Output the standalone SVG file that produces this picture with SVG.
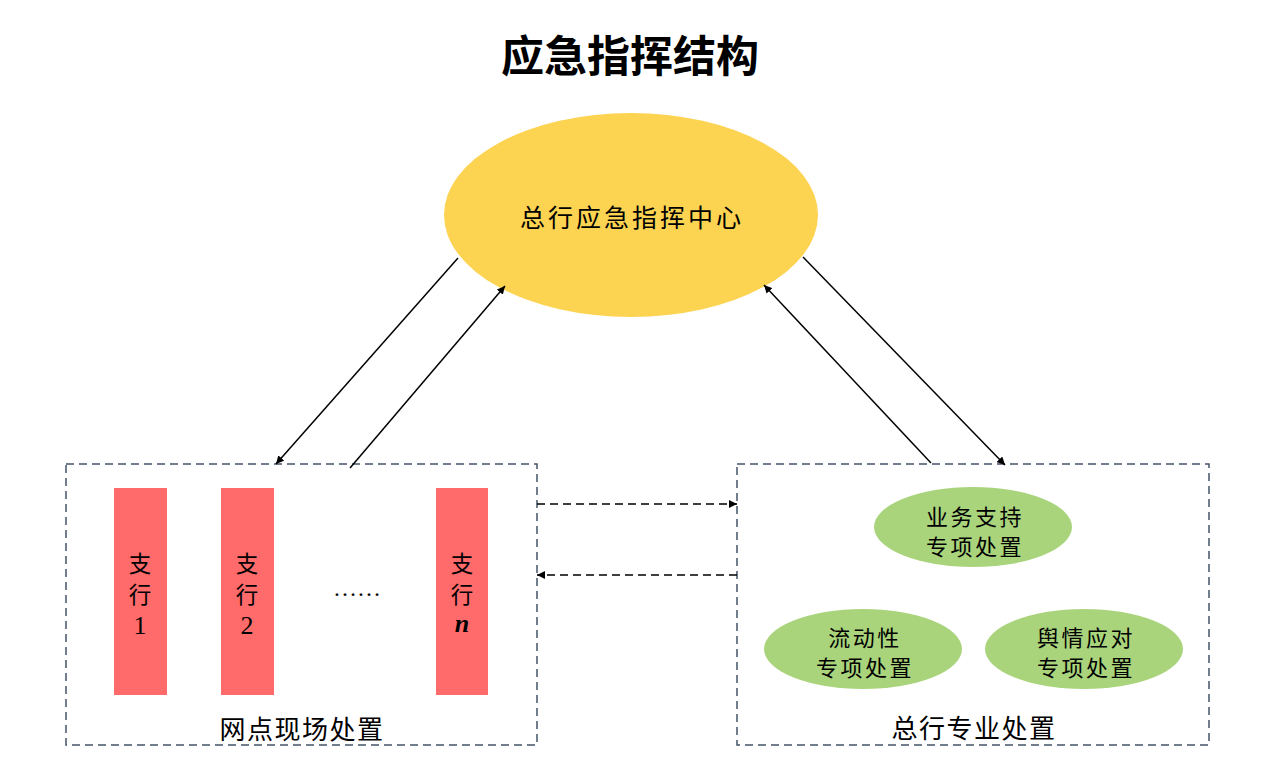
<svg xmlns="http://www.w3.org/2000/svg" width="1268" height="773" viewBox="0 0 1268 773">
<style>
.cjk{font-family:"Noto Sans CJK SC","Noto Sans",sans-serif;fill:#000;text-anchor:middle;dominant-baseline:central}
.ser{font-family:"Liberation Serif",serif;fill:#000;text-anchor:middle;dominant-baseline:central}
.box{fill:none;stroke:#44546A;stroke-width:1.5;stroke-dasharray:8 5}
.bar{fill:#FF6B6B}
.grn{fill:#A9D47C}
.gt{font-size:22px;letter-spacing:2.5px}
.bt{font-size:22.5px}
.ln{stroke:#000;stroke-width:1.5;fill:none;marker-end:url(#ah)}
.dl{stroke:#000;stroke-width:1.5;fill:none;stroke-dasharray:8 5;marker-end:url(#ah)}
</style>
<defs>
<marker id="ah" viewBox="0 0 10 10" refX="10" refY="5" markerWidth="8" markerHeight="8" orient="auto" markerUnits="userSpaceOnUse">
<path d="M0,0 L10,5 L0,10 z" fill="#000"/>
</marker>
</defs>
<rect width="1268" height="773" fill="#fff"/>
<text id="title" class="cjk" x="630" y="53" font-size="43" font-weight="bold">应急指挥结构</text>

<g id="center">
<ellipse cx="631" cy="215" rx="187" ry="102" fill="#FDD352"/>
<text class="cjk" x="632" y="216" font-size="25" letter-spacing="3">总行应急指挥中心</text>
</g>

<g id="branch-box">
<rect class="box" x="66" y="464" width="471" height="281"/>
<text class="cjk" x="302" y="727" font-size="26" letter-spacing="1.5">网点现场处置</text>
</g>
<g id="branch1">
<rect class="bar" x="114" y="488" width="53" height="207"/>
<text class="cjk bt" x="140" y="562">支</text>
<text class="cjk bt" x="140" y="593">行</text>
<text class="ser" x="140" y="625" font-size="26">1</text>
</g>
<g id="branch2">
<rect class="bar" x="221" y="488" width="53" height="207"/>
<text class="cjk bt" x="247" y="562">支</text>
<text class="cjk bt" x="247" y="593">行</text>
<text class="ser" x="247" y="625" font-size="26">2</text>
</g>
<g id="dots">
<text class="ser" x="357" y="588" font-size="24">……</text>
</g>
<g id="branchn">
<rect class="bar" x="436" y="488" width="52" height="207"/>
<text class="cjk bt" x="462" y="562">支</text>
<text class="cjk bt" x="462" y="593">行</text>
<text class="ser" x="462" y="623" font-size="26" font-style="italic" font-weight="bold">n</text>
</g>

<g id="hq-box">
<rect class="box" x="737" y="464" width="472" height="281"/>
<text class="cjk" x="974" y="726" font-size="26" letter-spacing="1.5">总行专业处置</text>
</g>
<g id="biz">
<ellipse class="grn" cx="973" cy="527" rx="99" ry="40"/>
<text class="cjk gt" x="975" y="515">业务支持</text>
<text class="cjk gt" x="975" y="545">专项处置</text>
</g>
<g id="liq">
<ellipse class="grn" cx="863" cy="649" rx="99" ry="40"/>
<text class="cjk gt" x="865" y="636">流动性</text>
<text class="cjk gt" x="865" y="666">专项处置</text>
</g>
<g id="pr">
<ellipse class="grn" cx="1084" cy="649" rx="99" ry="40"/>
<text class="cjk gt" x="1086" y="636">舆情应对</text>
<text class="cjk gt" x="1086" y="666">专项处置</text>
</g>

<g id="connectors">
<line class="ln" x1="458" y1="258" x2="276" y2="464"/>
<line class="ln" x1="350" y1="468" x2="505" y2="286"/>
<line class="ln" x1="803" y1="257" x2="1005" y2="465"/>
<line class="ln" x1="931" y1="463" x2="764" y2="285"/>
<line class="dl" x1="537" y1="504" x2="737" y2="504"/>
<line class="dl" x1="737" y1="575" x2="537" y2="575"/>
</g>
</svg>
